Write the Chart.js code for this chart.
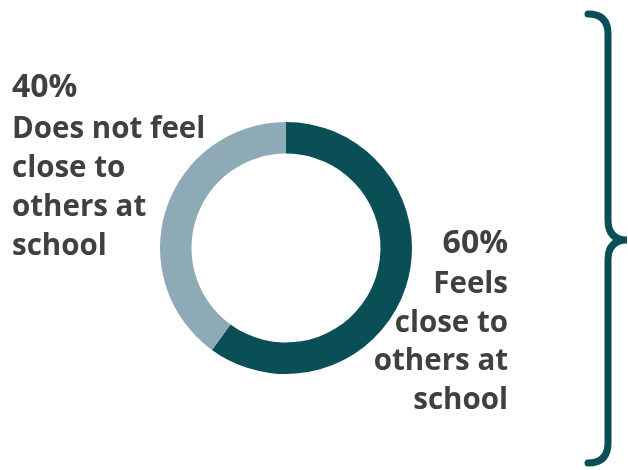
<!DOCTYPE html>
<html>
<head>
<meta charset="utf-8">
<title>Closeness at school</title>
<script src="https://cdn.jsdelivr.net/npm/chart.js@4.4.1/dist/chart.umd.min.js"></script>
<style>
  html, body { margin: 0; padding: 0; background: #fff; }
  canvas { display: block; }
</style>
</head>
<body>
<canvas id="closeChart" width="628" height="470"></canvas>
<script>
/* ================= DATA ================= */
const categories = ["Feels close to others at school", "Does not feel close to others at school"];
const shares     = [60, 40];
const colours    = ["#0a4f55", "#8eaab6"];

// label lines under each percentage
const labelLines = [
    ["Feels", "close to", "others at", "school"],
    ["Does not feel", "close to", "others at", "school"]
];

const TEXT_COLOUR = "#404040";
const FONT = "bold 29.5px 'Open Sans', Lato, sans-serif";
const PCT_FONT = "bold 32px 'Open Sans', Lato, sans-serif";

/* ================= LABELS + BRACE ================= */
const labelPlugin = {
    id: "sideLabels",
    afterDraw(chart) {
        const ctx = chart.ctx;
        const arc = chart.getDatasetMeta(0).data[0];
        const cx = arc.x, cy = arc.y, r = arc.outerRadius;

        ctx.save();
        ctx.fillStyle = TEXT_COLOUR;
        ctx.textBaseline = "alphabetic";

        // left block (40%)
        ctx.textAlign = "left";
        let y = cy - 151;
        ctx.font = PCT_FONT;
        ctx.fillText(shares[1] + "%", 12, y);
        ctx.font = FONT;
        labelLines[1].forEach((line, i) => {
            ctx.fillText(line, 12, y + 41 + i * 39);
        });

        // right block (60%)
        ctx.textAlign = "right";
        const rx = cx + r + 96;
        y = cy + 5;
        ctx.font = PCT_FONT;
        ctx.fillText(shares[0] + "%", rx, y);
        ctx.font = FONT;
        labelLines[0].forEach((line, i) => {
            ctx.fillText(line, rx, y + 40 + i * 38.5);
        });

        // curly brace on the right
        ctx.strokeStyle = colours[0];
        ctx.lineWidth = 7;
        ctx.lineCap = "round";
        const bx = 608, top = 14, mid = 240, bot = 463, k = 20;
        ctx.beginPath();
        ctx.moveTo(bx - 20, top);
        ctx.quadraticCurveTo(bx, top, bx, top + k);
        ctx.lineTo(bx, mid - k);
        ctx.quadraticCurveTo(bx, mid, bx + 19, mid);
        ctx.quadraticCurveTo(bx, mid, bx, mid + k);
        ctx.lineTo(bx, bot - k);
        ctx.quadraticCurveTo(bx, bot, bx - 20, bot);
        ctx.stroke();
        ctx.restore();
    }
};

/* ================= CHART ================= */
new Chart(document.getElementById("closeChart"), {
    type: "doughnut",
    data: {
        labels: categories,
        datasets: [{
            data: shares,
            backgroundColor: colours,
            borderWidth: 0
        }]
    },
    options: {
        responsive: false,
        animation: false,
        cutout: "75%",
        layout: { padding: { left: 160, right: 216, top: 122, bottom: 96 } },
        plugins: {
            legend: { display: false },
            tooltip: { enabled: false }
        }
    },
    plugins: [labelPlugin]
});
</script>
</body>
</html>
